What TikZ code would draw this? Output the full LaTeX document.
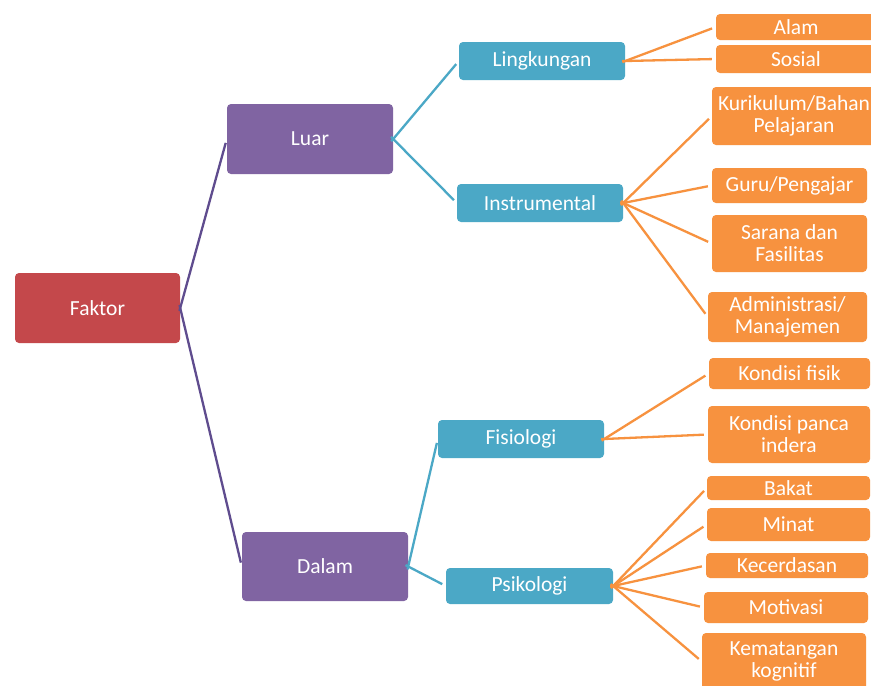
\documentclass[tikz,border=0pt]{standalone}
\usepackage{fontspec}
\setmainfont{Carlito}
\definecolor{cred}{HTML}{C4484B}
\definecolor{cpurple}{HTML}{8064A2}
\definecolor{cblue}{HTML}{4BA8C6}
\definecolor{corange}{HTML}{F7923F}
\definecolor{lpurple}{HTML}{5F4C8E}
\begin{document}
\begin{tikzpicture}[x=1pt,y=-1pt,
  box/.style={rounded corners=4pt, inner sep=0pt, text=white, align=center,
    font=\fontsize{21.5}{22}\selectfont},
  redbox/.style={box, fill=cred},
  purbox/.style={box, fill=cpurple},
  bluebox/.style={box, fill=cblue},
  orbox/.style={box, fill=corange},
  con/.style={line width=2.3pt, shorten <=-3pt, shorten >=4pt},
  pcon/.style={con, draw=lpurple},
  bcon/.style={con, draw=cblue},
  ocon/.style={con, draw=corange}]
\useasboundingbox (0,0) rectangle (871,686);
\fill[white] (0,0) rectangle (871,686);
% level 0
\node[redbox, minimum width=165pt, minimum height=70pt] (faktor) at (97.5,308) {Faktor};
% level 1
\node[purbox, minimum width=166pt, minimum height=70pt] (luar) at (310,139) {Luar};
\node[purbox, minimum width=166pt, minimum height=69pt] (dalam) at (325,566.5) {Dalam};
% level 2
\node[bluebox, minimum width=166pt, minimum height=38pt] (ling) at (542,61) {Lingkungan};
\node[bluebox, minimum width=166pt, minimum height=38pt] (instr) at (540,203) {Instrumental};
\node[bluebox, minimum width=166pt, minimum height=38pt] (fisio) at (521,439) {Fisiologi};
\node[bluebox, minimum width=167pt, minimum height=36pt] (psiko) at (529.5,586) {Psikologi};
% level 3
\node[orbox, minimum width=160pt, minimum height=26pt] (alam) at (796,27) {Alam};
\node[orbox, minimum width=160pt, minimum height=28pt] (sosial) at (796,59) {Sosial};
\node[orbox, minimum width=164pt, minimum height=58pt] (kuri) at (794,116) {Kurikulum/Bahan\\Pelajaran};
\node[orbox, minimum width=155pt, minimum height=35pt] (guru) at (789.5,185.5) {Guru/Pengajar};
\node[orbox, minimum width=155pt, minimum height=57pt] (sarana) at (789.5,243.5) {Sarana dan\\Fasilitas};
\node[orbox, minimum width=159pt, minimum height=50pt] (admin) at (787.5,317) {Administrasi/\\Manajemen};
\node[orbox, minimum width=161pt, minimum height=31pt] (kfisik) at (789.5,373.5) {Kondisi fisik};
\node[orbox, minimum width=162pt, minimum height=57pt] (kpanca) at (789,434.5) {Kondisi panca\\indera};
\node[orbox, minimum width=163pt, minimum height=24pt] (bakat) at (788.5,488) {Bakat};
\node[orbox, minimum width=163pt, minimum height=33pt] (minat) at (788.5,524.5) {Minat};
\node[orbox, minimum width=162pt, minimum height=25pt] (kecer) at (787,565.5) {Kecerdasan};
\node[orbox, minimum width=164pt, minimum height=31pt] (motiv) at (786,607.5) {Motivasi};
\node[orbox, minimum width=164pt, minimum height=57pt] (kemat) at (784,661.5) {Kematangan\\kognitif};
% connectors
\draw[pcon] (faktor.east) -- (luar.west);
\draw[pcon] (faktor.east) -- (dalam.west);
\draw[bcon] (luar.east) -- (ling.west);
\draw[bcon] (luar.east) -- (instr.west);
\draw[bcon] (dalam.east) -- (fisio.west);
\draw[bcon] (dalam.east) -- (psiko.west);
\draw[ocon] (ling.east) -- (alam.west);
\draw[ocon] (ling.east) -- (sosial.west);
\draw[ocon] (instr.east) -- (kuri.west);
\draw[ocon] (instr.east) -- (guru.west);
\draw[ocon] (instr.east) -- (sarana.west);
\draw[ocon] (instr.east) -- (admin.west);
\draw[ocon] (fisio.east) -- (kfisik.west);
\draw[ocon] (fisio.east) -- (kpanca.west);
\draw[ocon] (psiko.east) -- (bakat.west);
\draw[ocon] (psiko.east) -- (minat.west);
\draw[ocon] (psiko.east) -- (kecer.west);
\draw[ocon] (psiko.east) -- (motiv.west);
\draw[ocon] (psiko.east) -- (kemat.west);
\end{tikzpicture}
\end{document}
